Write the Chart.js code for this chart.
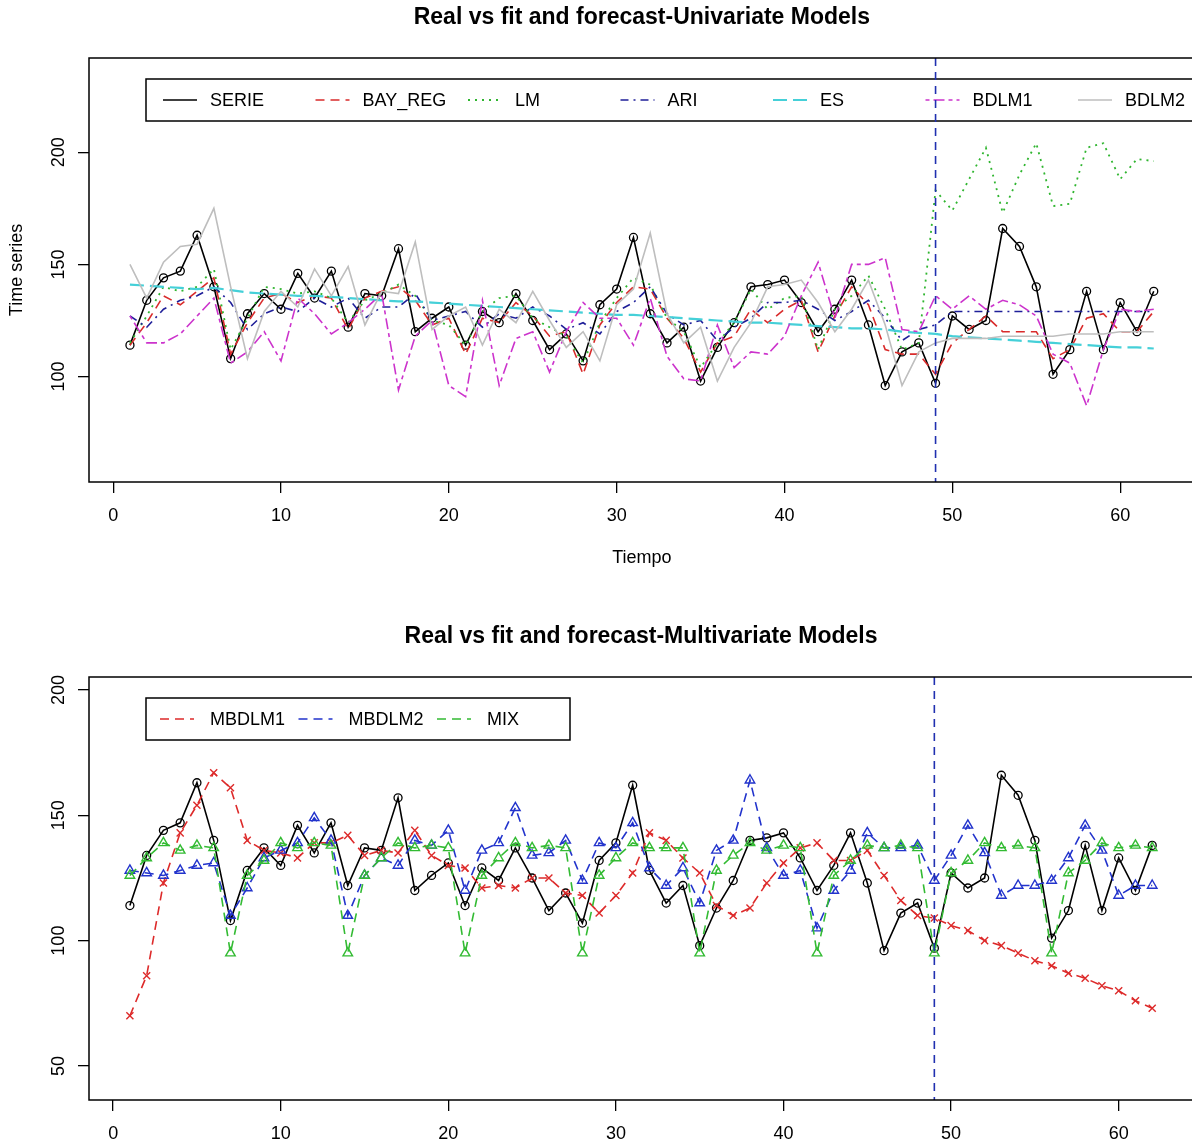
<!DOCTYPE html>
<html>
<head>
<meta charset="utf-8">
<script src="https://cdn.jsdelivr.net/npm/chart.js@4.4.1/dist/chart.umd.min.js"></script>
<style>
  html, body { margin: 0; padding: 0; background: #fff; overflow: hidden; }
  #uni { position: absolute; left: 0; top: 0; }
  #multi { position: absolute; left: 0; top: 590px; }
</style>
</head>
<body>
<canvas id="uni" width="1200" height="590"></canvas>
<canvas id="multi" width="1200" height="558"></canvas>
<script>
// time index and axis ticks
const tiempo = [1,2,3,4,5,6,7,8,9,10,11,12,13,14,15,16,17,18,19,20,21,22,23,24,25,26,27,28,29,30,
  31,32,33,34,35,36,37,38,39,40,41,42,43,44,45,46,47,48,49,50,51,52,53,54,55,56,57,58,59,60,61,62];
const forecastStart = 49;
const xTicks = [0, 10, 20, 30, 40, 50, 60];
const yTicksUni = [100, 150, 200];
const yTicksMulti = [50, 100, 150, 200];

// observed series
const serie = [114,134,144,147,163,140,108,128,137,130,146,135,147,122,137,136,157,120,126,131,114,129,124,137,125,112,119,107,132,139,
  162,128,115,122,98,113,124,140,141,143,133,120,130,143,123,96,111,115,97,127,121,125,166,158,140,101,112,138,112,133,120,138];

// univariate models (fit + forecast)
const bayReg = [114,124,136,132,138,144,110,124,135,137,133,136,135,121,135,138,140,134,123,126,110,126,124,133,127,118,120,101,123,133,
  140,139,126,117,102,115,118,130,124,130,134,111,127,140,132,112,110,110,101,115,121,127,120,120,120,108,112,126,128,120,120,129];
const lm = [115,127,140,138,140,148,112,126,140,139,137,138,135,124,134,137,141,136,125,123,114,129,135,136,126,122,118,106,124,135,
  144,141,126,120,104,115,124,139,130,135,136,112,130,136,145,130,112,115,183,174,188,202,173,190,204,176,177,202,204,188,197,196];
const ari = [127,122,130,134,136,140,133,121,128,131,129,135,131,135,126,131,131,137,125,127,129,122,128,126,131,127,121,124,119,129,
  133,140,128,123,125,116,122,126,133,133,134,130,125,129,134,126,116,121,123,129,129,129,129,129,129,129,129,129,129,129,129,129];
const es = [141,140.5,140,139.5,139,139.5,138.5,137.5,137,136.5,136,136,135.5,135,134.5,134,133.5,133.5,133,132.5,132,131.5,131,130.5,130,129.5,129,128.5,128,127.5,
  127.5,127,126.5,126,125.5,125,124.5,124,124,123.5,123,122.5,122,121.5,121.5,121,120,119.5,119,118,117.5,117,116.5,116,115.5,115,114.5,114,113.5,113,113,112.5];
const bdlm1 = [127,115,115,119,127,135,106,111,120,107,135,128,119,124,130,137,94,118,125,96,91,134,96,117,120,102,120,133,126,126,
  114,135,109,99,98,123,104,111,110,118,136,151,126,150,150,153,121,120,136,130,136,130,134,132,127,110,106,87,112,130,129,130];
const bdlm2 = [150,135,151,158,159,175,140,108,129,138,131,148,136,149,123,138,137,160,121,127,131,114,130,124,138,125,113,120,107,132,
  139,164,128,115,122,98,113,124,140,141,143,133,120,130,143,123,96,111,115,117,117,117,118,118,118,118,119,119,119,120,120,120];

// multivariate models (fit + forecast)
const mbdlm1 = [70,86,123,143,154,167,161,140,136,135,133,139,139,142,134,136,135,144,134,130,129,121,122,121,125,125,119,118,111,118,
  127,143,140,133,127,114,110,113,123,131,137,139,132,132,136,126,116,110,109,106,104,100,98,95,92,90,87,85,82,80,76,73];
const mbdlm2 = [128,127,126,128,130,131,110,121,133,136,139,149,140,110,126,133,130,140,138,144,120,136,139,153,134,135,140,124,139,137,
  147,129,122,129,115,136,140,164,137,126,128,105,120,128,143,137,137,138,124,134,146,135,118,122,122,124,133,146,136,118,122,122];
const mix = [126,133,139,136,138,137,95,126,132,139,137,139,138,95,126,133,139,137,138,137,95,126,133,139,137,138,137,95,126,133,
  139,137,137,137,95,128,134,139,136,138,137,95,126,132,138,137,138,137,95,127,132,139,137,138,137,95,127,132,139,137,138,137];

const FONT = '"Liberation Sans", Arial, sans-serif';
Chart.defaults.font.family = FONT;
Chart.defaults.color = '#000';

const pts = arr => arr.map((v, i) => ({ x: tiempo[i], y: v }));

// draws the R style box, legend, forecast line and main title
const rFrame = {
  id: 'rFrame',
  afterDatasetsDraw(chart, args, opts) {
    const { ctx, chartArea: a } = chart;
    ctx.save();

    // legend
    const lg = opts.legend;
    ctx.setLineDash([]);
    ctx.strokeStyle = '#000';
    ctx.lineWidth = 1.5;
    ctx.fillStyle = '#fff';
    ctx.fillRect(lg.x, lg.y, lg.w, lg.h);
    ctx.strokeRect(lg.x, lg.y, lg.w, lg.h);
    ctx.font = '18px ' + FONT;
    ctx.textBaseline = 'middle';
    ctx.textAlign = 'left';
    const cy = lg.y + lg.h / 2;
    chart.data.datasets.filter(ds => !ds.noLegend).forEach((ds, i) => {
      const x0 = lg.x + lg.pad + i * lg.step;
      ctx.beginPath();
      ctx.setLineDash(ds.borderDash || []);
      ctx.strokeStyle = ds.borderColor;
      ctx.lineWidth = ds.borderWidth;
      ctx.moveTo(x0, cy);
      ctx.lineTo(x0 + lg.len, cy);
      ctx.stroke();
      ctx.fillStyle = '#000';
      ctx.fillText(ds.label, x0 + lg.textOff, cy + 1);
    });

    // forecast origin
    const xf = chart.scales.x.getPixelForValue(forecastStart);
    ctx.beginPath();
    ctx.setLineDash([8, 6]);
    ctx.strokeStyle = '#2030b0';
    ctx.lineWidth = 1.6;
    ctx.moveTo(xf, a.top);
    ctx.lineTo(xf, a.bottom);
    ctx.stroke();

    // plot box
    ctx.setLineDash([]);
    ctx.strokeStyle = '#000';
    ctx.lineWidth = 1.5;
    ctx.strokeRect(a.left, a.top, a.width, a.height);

    // main title, centred over the plot region
    ctx.font = 'bold 23px ' + FONT;
    ctx.textAlign = 'center';
    ctx.fillText(opts.title, (a.left + a.right) / 2, opts.titleY);
    ctx.restore();
  }
};

function axes(yMin, yMax, yTicks, xHeight, withTitles) {
  const grid = { drawOnChartArea: false, drawTicks: true, tickLength: 11, color: '#000', lineWidth: 1.3 };
  return {
    x: {
      type: 'linear', min: -1.44, max: 64.44,
      afterBuildTicks: s => { s.ticks = xTicks.map(v => ({ value: v })); },
      afterFit: s => { s.height = xHeight; },
      grid: grid,
      border: { display: false },
      ticks: { padding: 12, maxRotation: 0, autoSkip: false, font: { size: 18 } },
      title: { display: withTitles, text: 'Tiempo', font: { size: 18 }, padding: { bottom: 21 } }
    },
    y: {
      type: 'linear', min: yMin, max: yMax,
      afterBuildTicks: s => { s.ticks = yTicks.map(v => ({ value: v })); },
      afterFit: s => { s.width = 89; },
      grid: grid,
      border: { display: false },
      ticks: { minRotation: 90, maxRotation: 90, crossAlign: 'center', padding: 4, font: { size: 18 } },
      title: { display: withTitles, text: 'Time series', font: { size: 18 }, padding: { top: 6 } }
    }
  };
}

function line(label, data, color, dash, width, extra) {
  return Object.assign({
    label: label, data: pts(data), borderColor: color, borderDash: dash, borderWidth: width,
    pointRadius: 0, tension: 0, fill: false
  }, extra || {});
}

const serieStyle = {
  pointRadius: 4, pointStyle: 'circle', pointBorderColor: '#000',
  pointBackgroundColor: 'rgba(0,0,0,0)', pointBorderWidth: 1.3
};

const uniSets = [
  line('SERIE', serie, '#000000', [], 1.6, serieStyle),
  line('BAY_REG', bayReg, '#d92b2b', [9, 6], 1.6),
  line('LM', lm, '#2fb52f', [2, 5], 1.8),
  line('ARI', ari, '#1f1f99', [8, 5, 2, 5], 1.6),
  line('ES', es, '#45d0d8', [14, 6], 2.2),
  line('BDLM1', bdlm1, '#cc33cc', [4, 4, 11, 4], 1.6),
  line('BDLM2', bdlm2, '#bebebe', [], 1.6)
];
uniSets.forEach((d, i) => { d.order = -i; });

new Chart(document.getElementById('uni'), {
  type: 'line',
  data: { datasets: uniSets },
  options: {
    responsive: false, animation: false, devicePixelRatio: 1,
    layout: { padding: { top: 58, left: 0, right: 4, bottom: 0 } },
    scales: axes(53, 242, yTicksUni, 108, true),
    plugins: {
      legend: { display: false }, tooltip: { enabled: false },
      rFrame: {
        title: 'Real vs fit and forecast-Univariate Models', titleY: 18,
        legend: { x: 146, y: 79, w: 1100, h: 42, pad: 17, step: 152.5, len: 34, textOff: 47 }
      }
    }
  },
  plugins: [rFrame]
});

const multiSets = [
  line('SERIE', serie, '#000000', [], 1.6, Object.assign({ noLegend: true }, serieStyle)),
  line('MBDLM1', mbdlm1, '#dd2a2a', [9, 6], 1.6, {
    pointRadius: 5, pointStyle: 'crossRot', pointBorderColor: '#dd2a2a', pointBorderWidth: 1.4
  }),
  line('MBDLM2', mbdlm2, '#2233cc', [9, 6], 1.6, {
    pointRadius: 5.5, pointStyle: 'triangle', pointBorderColor: '#2233cc',
    pointBackgroundColor: 'rgba(0,0,0,0)', pointBorderWidth: 1.4
  }),
  line('MIX', mix, '#33bb33', [9, 6], 1.6, {
    pointRadius: 5.5, pointStyle: 'triangle', pointBorderColor: '#33bb33',
    pointBackgroundColor: 'rgba(0,0,0,0)', pointBorderWidth: 1.4
  })
];
multiSets.forEach((d, i) => { d.order = -i; });

new Chart(document.getElementById('multi'), {
  type: 'line',
  data: { datasets: multiSets },
  options: {
    responsive: false, animation: false, devicePixelRatio: 1,
    layout: { padding: { top: 87, left: 0, right: 4, bottom: 0 } },
    scales: axes(36.4, 205.2, yTicksMulti, 48, false),
    plugins: {
      legend: { display: false }, tooltip: { enabled: false },
      rFrame: {
        title: 'Real vs fit and forecast-Multivariate Models', titleY: 47,
        legend: { x: 146, y: 108, w: 424, h: 42, pad: 14, step: 138.5, len: 34, textOff: 50 }
      }
    }
  },
  plugins: [rFrame]
});
</script>
</body>
</html>
